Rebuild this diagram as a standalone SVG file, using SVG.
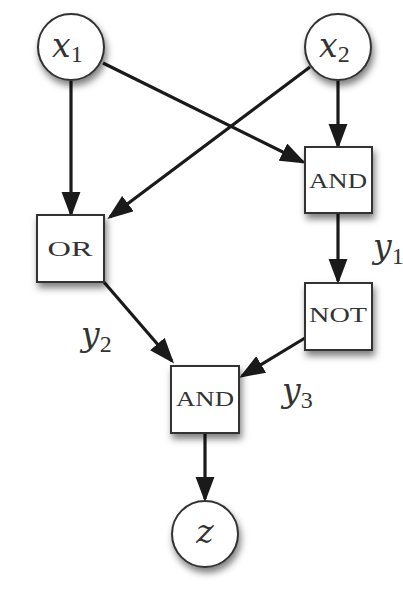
<svg xmlns="http://www.w3.org/2000/svg" width="403" height="590" viewBox="0 0 403 590">
<style>
.node{fill:#fff;stroke:#333;stroke-width:2;filter:url(#sh)}
.gate{font-family:"Liberation Serif","DejaVu Serif",serif;font-size:22px;fill:#333;text-anchor:middle}
.var{font-family:"DejaVu Serif","Liberation Serif",serif;font-style:italic;font-size:33px;fill:#333}
.sub{font-family:"Liberation Serif","DejaVu Serif",serif;font-size:24px;fill:#333;font-style:normal}
.edge{stroke:#1a1a1a;stroke-width:3.2;fill:none;marker-end:url(#ah)}
</style>
<defs>
<filter id="sh" x="-30%" y="-30%" width="170%" height="170%">
<feDropShadow dx="2" dy="5" stdDeviation="3.5" flood-color="#000" flood-opacity="0.5"/>
</filter>
<marker id="ah" markerWidth="8" markerHeight="6" refX="7" refY="3" orient="auto" markerUnits="strokeWidth">
<path d="M0,0 L8,3 L0,6 Z" fill="#1a1a1a"/>
</marker>
</defs>
<g id="connectors">
<line class="edge" x1="71" y1="81" x2="71" y2="214"/>
<line class="edge" x1="103" y1="63" x2="303" y2="162"/>
<line class="edge" x1="310" y1="67" x2="110" y2="217"/>
<line class="edge" x1="338" y1="81" x2="338" y2="146"/>
<line class="edge" x1="338" y1="213" x2="338" y2="281"/>
<line class="edge" x1="103" y1="281" x2="172" y2="361"/>
<line class="edge" x1="305" y1="338" x2="242" y2="376"/>
<line class="edge" x1="205" y1="433" x2="205" y2="499"/>
</g>
<g id="x1"><circle class="node" cx="71" cy="47" r="33"/><text class="var" x="52" y="57">x<tspan class="sub" dy="5">1</tspan></text></g>
<g id="x2"><circle class="node" cx="338" cy="47" r="33"/><text class="var" x="319" y="57">x<tspan class="sub" dy="5">2</tspan></text></g>
<g id="and1"><rect class="node" x="305" y="147" width="67" height="66"/><text class="gate" x="338" y="188" textLength="58" lengthAdjust="spacingAndGlyphs">AND</text></g>
<g id="or"><rect class="node" x="37" y="215" width="67" height="67"/><text class="gate" x="70" y="256" textLength="45" lengthAdjust="spacingAndGlyphs">OR</text></g>
<g id="not"><rect class="node" x="305" y="283" width="67" height="67"/><text class="gate" x="338" y="322" textLength="58" lengthAdjust="spacingAndGlyphs">NOT</text></g>
<g id="and2"><rect class="node" x="171" y="366" width="68" height="67"/><text class="gate" x="205" y="406" textLength="58" lengthAdjust="spacingAndGlyphs">AND</text></g>
<g id="z"><circle class="node" cx="205" cy="534" r="33"/><text class="var" x="205" y="543" text-anchor="middle">z</text></g>
<g id="labels">
<text class="var" x="373" y="258">y<tspan class="sub" dy="6">1</tspan></text>
<text class="var" x="81" y="346">y<tspan class="sub" dy="6">2</tspan></text>
<text class="var" x="282" y="402">y<tspan class="sub" dy="6">3</tspan></text>
</g>
</svg>
